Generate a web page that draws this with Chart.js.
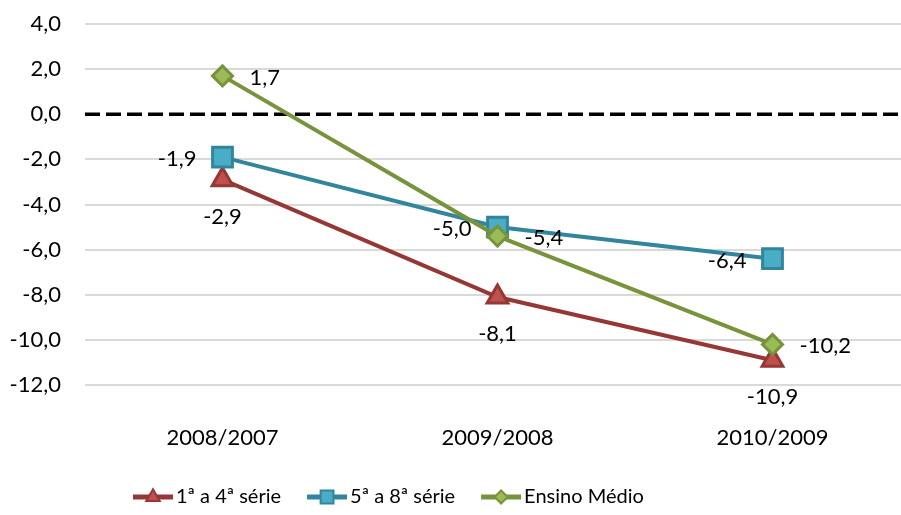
<!DOCTYPE html>
<html>
<head>
<meta charset="utf-8">
<script src="https://cdn.jsdelivr.net/npm/chart.js@4"></script>
<style>
  html, body { margin:0; padding:0; background:#fff; overflow:hidden; }
  #wrap { width:910px; height:515px; }
</style>
</head>
<body>
<div id="wrap"><canvas id="chart" width="910" height="515"></canvas></div>
<script>
const CATEGORIES   = ['2008/2007', '2009/2008', '2010/2009'];
const SERIES_NAMES = ['1ª a 4ª série', '5ª a 8ª série', 'Ensino Médio'];
const SERIE_1A4    = [-2.9, -8.1, -10.9];
const SERIE_5A8    = [-1.9, -5.0, -6.4];
const ENSINO_MEDIO = [1.7, -5.4, -10.2];
const Y_TICKS      = [4, 2, 0, -2, -4, -6, -8, -10, -12];

const FONT = 'Lato';
const fmt = v => v.toFixed(1).replace('.', ',');

// ── Plugins ───────────────────────────────────────────────────────────────────
const zeroLine = {
  id: 'zeroLine',
  beforeDatasetsDraw(chart) {
    const { ctx, chartArea: a } = chart;
    const y = chart.scales.y.getPixelForValue(0);
    ctx.save();
    ctx.setLineDash([15, 6]);
    ctx.lineWidth = 3.5;
    ctx.strokeStyle = '#000';
    ctx.beginPath();
    ctx.moveTo(a.left, y);
    ctx.lineTo(a.right, y);
    ctx.stroke();
    ctx.restore();
  }
};

const valueLabels = {
  id: 'valueLabels',
  afterDatasetsDraw(chart) {
    const { ctx } = chart;
    ctx.save();
    ctx.font = `22px ${FONT}`;
    ctx.fillStyle = '#000';
    ctx.textBaseline = 'middle';
    chart.data.datasets.forEach((ds, i) => {
      const meta = chart.getDatasetMeta(i);
      meta.data.forEach((pt, j) => {
        const txt = fmt(ds.data[j]);
        if (ds.labelPos === 'below') {
          ctx.textAlign = 'center';
          ctx.fillText(txt, pt.x, pt.y + 37);
        } else if (ds.labelPos === 'left') {
          ctx.textAlign = 'right';
          ctx.fillText(txt, pt.x - 26, pt.y + 2);
        } else {
          ctx.textAlign = 'left';
          ctx.fillText(txt, pt.x + 27, pt.y + 2);
        }
      });
    });
    ctx.restore();
  }
};

const bottomLegend = {
  id: 'bottomLegend',
  afterDraw(chart) {
    const { ctx } = chart;
    const y = 497;
    let x = 133;
    ctx.save();
    ctx.font = `20px ${FONT}`;
    ctx.textBaseline = 'middle';
    ctx.textAlign = 'left';
    chart.data.datasets.forEach(ds => {
      ctx.strokeStyle = ds.borderColor;
      ctx.lineWidth = 5;
      ctx.beginPath();
      ctx.moveTo(x, y);
      ctx.lineTo(x + 40, y);
      ctx.stroke();
      ctx.fillStyle = ds.pointBackgroundColor;
      ctx.strokeStyle = ds.pointBorderColor;
      ctx.lineWidth = 2;
      Chart.helpers.drawPoint(ctx, { pointStyle: ds.pointStyle, radius: ds.pointRadius * 0.65, rotation: 0, borderWidth: 2 }, x + 20, y);
      ctx.fillStyle = '#000';
      ctx.fillText(ds.label, x + 43, y);
      x += 43 + ctx.measureText(ds.label).width + 26;
    });
    ctx.restore();
  }
};

// ── Chart ─────────────────────────────────────────────────────────────────────
new Chart(document.getElementById('chart').getContext('2d'), {
  type: 'line',
  data: {
    labels: CATEGORIES,
    datasets: [
      {
        label: SERIES_NAMES[0], data: SERIE_1A4, order: 2, labelPos: 'below',
        borderColor: '#953735', borderWidth: 4,
        pointStyle: 'triangle', pointRadius: 12, pointBorderWidth: 3,
        pointBackgroundColor: '#c0504d', pointBorderColor: '#953735'
      },
      {
        label: SERIES_NAMES[1], data: SERIE_5A8, order: 1, labelPos: 'left',
        borderColor: '#31859c', borderWidth: 4,
        pointStyle: 'rect', pointRadius: 14, pointBorderWidth: 3,
        pointBackgroundColor: '#4bacc6', pointBorderColor: '#31859c'
      },
      {
        label: SERIES_NAMES[2], data: ENSINO_MEDIO, order: 0, labelPos: 'right',
        borderColor: '#77933c', borderWidth: 4,
        pointStyle: 'rectRot', pointRadius: 10, pointBorderWidth: 3,
        pointBackgroundColor: '#9bbb59', pointBorderColor: '#77933c'
      }
    ]
  },
  options: {
    responsive: false,
    animation: false,
    layout: { padding: 0, autoPadding: false },
    plugins: { legend: { display: false }, tooltip: { enabled: false } },
    elements: { line: { tension: 0 } },
    scales: {
      x: {
        offset: true,
        grid: { display: false },
        border: { display: false },
        afterFit: s => { s.height = 130; s.paddingLeft = 0; s.paddingRight = 0; },
        ticks: { color: '#000', font: { family: FONT, size: 22 }, padding: 32 }
      },
      y: {
        min: -12, max: 4,
        afterFit: s => { s.width = 85; s.paddingTop = 24; s.paddingBottom = 0; },
        afterBuildTicks: s => { s.ticks = Y_TICKS.map(v => ({ value: v })); },
        border: { display: false },
        grid: {
          drawTicks: false, lineWidth: 2,
          color: c => c.tick && c.tick.value === 0 ? 'rgba(0,0,0,0)' : '#d9d9d9'
        },
        ticks: { color: '#000', font: { family: FONT, size: 22 }, padding: 24, callback: v => fmt(v) }
      }
    }
  },
  plugins: [zeroLine, valueLabels, bottomLegend]
});
</script>
</body>
</html>
